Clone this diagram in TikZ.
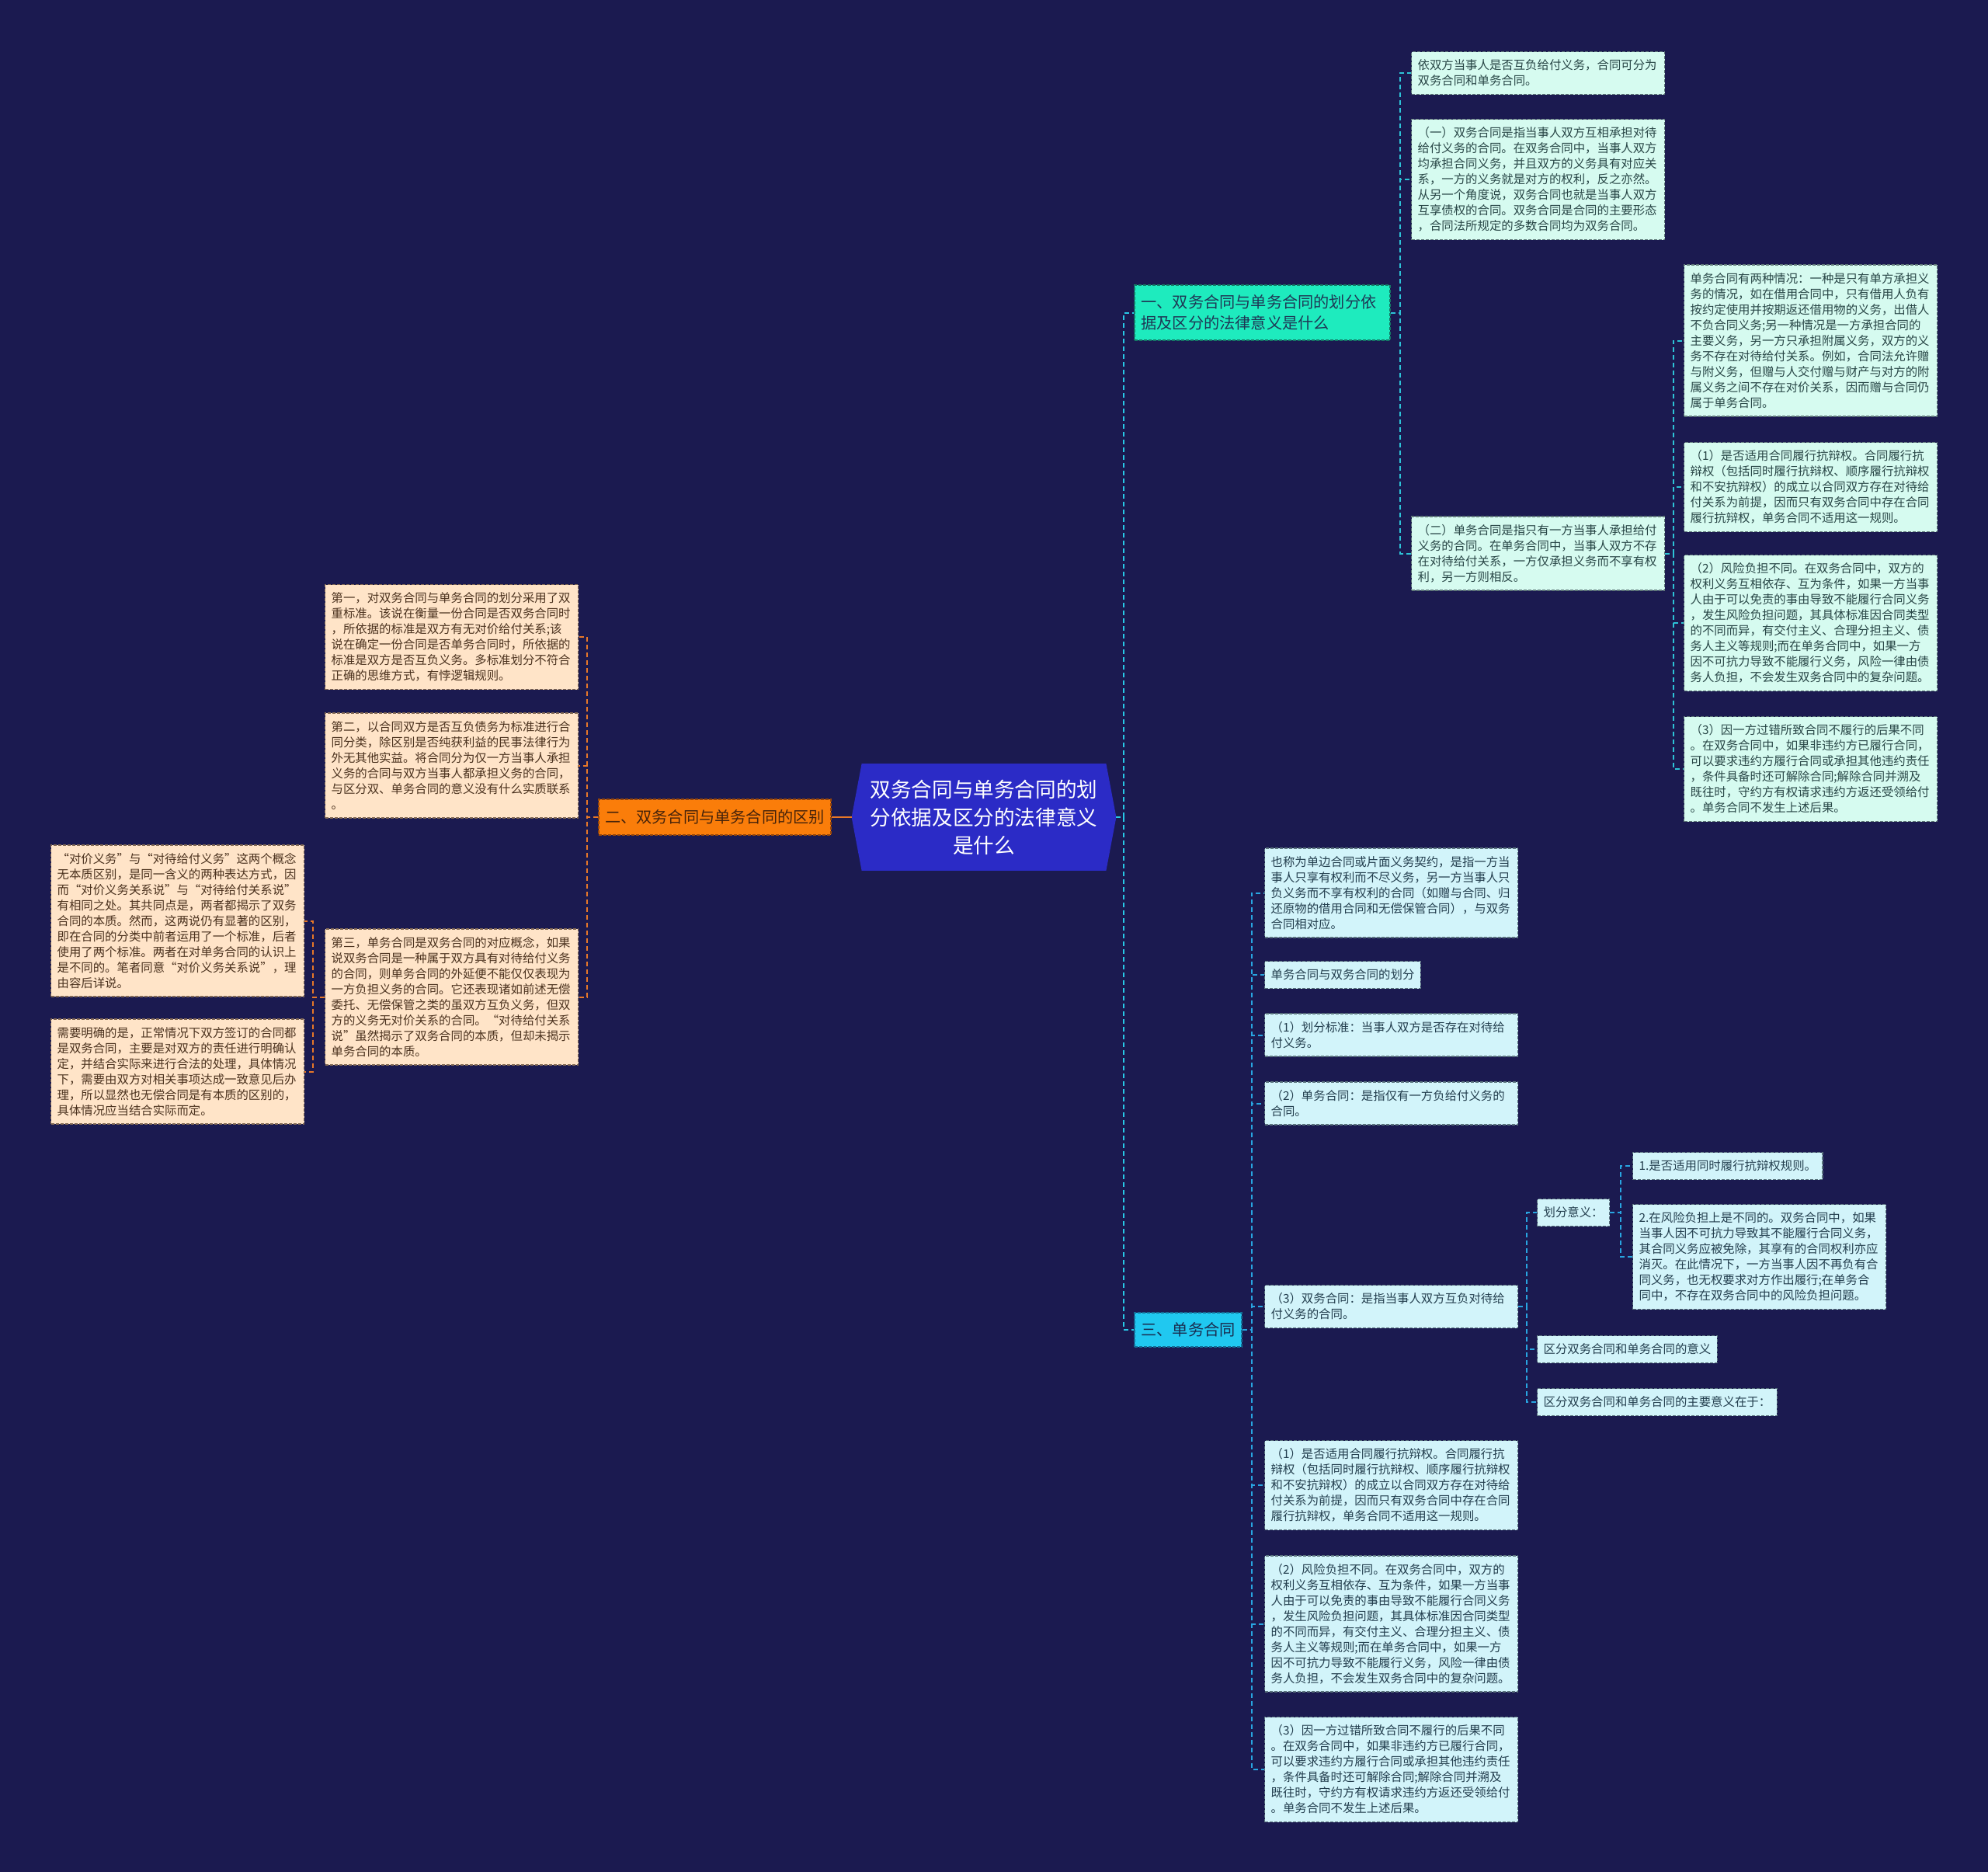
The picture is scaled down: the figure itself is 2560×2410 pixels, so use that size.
\documentclass[tikz,border=0pt]{standalone}
\usepackage{fontspec}
\setmainfont{Noto Sans CJK SC}
\usetikzlibrary{calc,backgrounds}
\definecolor{bgc}{RGB}{27,26,80}
\definecolor{rootfill}{RGB}{43,43,198}
\definecolor{orfill}{RGB}{250,125,10}
\definecolor{orline}{RGB}{150,70,10}
\definecolor{ortext}{RGB}{70,35,10}
\definecolor{onefill}{RGB}{30,235,190}
\definecolor{oneline}{RGB}{20,120,100}
\definecolor{onetext}{RGB}{30,55,85}
\definecolor{thrfill}{RGB}{32,200,240}
\definecolor{thrline}{RGB}{20,110,150}
\definecolor{thrtext}{RGB}{25,45,80}
\definecolor{mintf}{RGB}{214,251,240}
\definecolor{mintl}{RGB}{95,120,120}
\definecolor{mintt}{RGB}{40,70,70}
\definecolor{bluef}{RGB}{210,244,250}
\definecolor{bluel}{RGB}{90,115,125}
\definecolor{bluet}{RGB}{35,62,78}
\definecolor{peachf}{RGB}{255,228,200}
\definecolor{peachl}{RGB}{130,105,85}
\definecolor{peacht}{RGB}{75,50,30}
\definecolor{eroot}{RGB}{40,200,230}
\definecolor{eone}{RGB}{45,195,215}
\definecolor{ethr}{RGB}{40,165,225}
\definecolor{etwo}{RGB}{232,120,40}
\tikzset{
  box/.style={rectangle, anchor=west, inner xsep=4pt, inner ysep=0pt,
    line width=0.6pt, dash pattern=on 2pt off 1pt,
    font=\fontsize{7.7}{10}\selectfont, align=left},
  wide/.style={text width=155pt},
  nl/.style={minimum height={(20*#1+15)*0.5pt}},
  mint/.style={box, fill=mintf, draw=mintl, text=mintt},
  bluebox/.style={box, fill=bluef, draw=bluel, text=bluet},
  peach/.style={box, fill=peachf, draw=peachl, text=peacht},
  branch/.style={rectangle, inner xsep=4pt, inner ysep=0pt, line width=0.7pt,
    dash pattern=on 2pt off 1pt, font=\fontsize{10.1}{13.5}\selectfont},
  rootnode/.style={rectangle, inner sep=0pt, minimum width=170pt, minimum height=68.5pt,
    text=white, align=center, font=\fontsize{13.3}{18}\selectfont},
  edge/.style={line width=1pt, dash pattern=on 3pt off 2pt},
  eR/.style={edge, draw=eroot},
  e1/.style={edge, draw=eone},
  e3/.style={edge, draw=ethr},
  e2/.style={edge, draw=etwo},
}
\begin{document}
\begin{tikzpicture}[x=0.5pt,y=-0.5pt]
\useasboundingbox (0,0) rectangle (2560,2410);
\begin{scope}[on background layer]
\fill[bgc] (0,0) rectangle (2560,2410);
\end{scope}

% root
\node[rootnode] (root) at (1267,1052) {双务合同与单务合同的划\\分依据及区分的法律意义\\是什么};
\begin{scope}[on background layer]
\fill[rootfill] ($(root.north west)+(13,0)$) -- ($(root.north east)+(-13,0)$) -- (root.east)
  -- ($(root.south east)+(-13,0)$) -- ($(root.south west)+(13,0)$) -- (root.west) -- cycle;
\end{scope}

% branches
\node[branch, fill=orfill, draw=orline, text=ortext, minimum width=149.5pt, minimum height=23pt] (b2) at (920.5,1052) {二、双务合同与单务合同的区别};
\node[branch, fill=onefill, draw=oneline, text=onetext, minimum width=164.5pt, minimum height=35.5pt, text width=156pt, align=left] (b1) at (1625.5,402.5) {一、双务合同与单务合同的划分依\\据及区分的法律意义是什么};
\node[branch, fill=thrfill, draw=thrline, text=thrtext, minimum width=69pt, minimum height=22pt] (b3) at (1530,1712) {三、单务合同};

% branch one subtree
\node[mint, wide, nl=2] (A) at (1817,94) {依双方当事人是否互负给付义务，合同可分为\\双务合同和单务合同。};
\node[mint, wide, nl=7] (B) at (1817,231) {（一）双务合同是指当事人双方互相承担对待\\给付义务的合同。在双务合同中，当事人双方\\均承担合同义务，并且双方的义务具有对应关\\系，一方的义务就是对方的权利，反之亦然。\\从另一个角度说，双务合同也就是当事人双方\\互享债权的合同。双务合同是合同的主要形态\\，合同法所规定的多数合同均为双务合同。};
\node[mint, wide, nl=4] (C) at (1817,712.5) {（二）单务合同是指只有一方当事人承担给付\\义务的合同。在单务合同中，当事人双方不存\\在对待给付关系，一方仅承担义务而不享有权\\利，另一方则相反。};
\node[mint, wide, nl=9] (D) at (2168,438.5) {单务合同有两种情况：一种是只有单方承担义\\务的情况，如在借用合同中，只有借用人负有\\按约定使用并按期返还借用物的义务，出借人\\不负合同义务;另一种情况是一方承担合同的\\主要义务，另一方只承担附属义务，双方的义\\务不存在对待给付关系。例如，合同法允许赠\\与附义务，但赠与人交付赠与财产与对方的附\\属义务之间不存在对价关系，因而赠与合同仍\\属于单务合同。};
\node[mint, wide, nl=5] (E) at (2168,627) {（1）是否适用合同履行抗辩权。合同履行抗\\辩权（包括同时履行抗辩权、顺序履行抗辩权\\和不安抗辩权）的成立以合同双方存在对待给\\付关系为前提，因而只有双务合同中存在合同\\履行抗辩权，单务合同不适用这一规则。};
\node[mint, wide, nl=8] (F) at (2168,802) {（2）风险负担不同。在双务合同中，双方的\\权利义务互相依存、互为条件，如果一方当事\\人由于可以免责的事由导致不能履行合同义务\\，发生风险负担问题，其具体标准因合同类型\\的不同而异，有交付主义、合理分担主义、债\\务人主义等规则;而在单务合同中，如果一方\\因不可抗力导致不能履行义务，风险一律由债\\务人负担，不会发生双务合同中的复杂问题。};
\node[mint, wide, nl=6] (G) at (2168,990) {（3）因一方过错所致合同不履行的后果不同\\。在双务合同中，如果非违约方已履行合同，\\可以要求违约方履行合同或承担其他违约责任\\，条件具备时还可解除合同;解除合同并溯及\\既往时，守约方有权请求违约方返还受领给付\\。单务合同不发生上述后果。};

% branch two subtree
\node[peach, wide, nl=6] (H) at (418,820) {第一，对双务合同与单务合同的划分采用了双\\重标准。该说在衡量一份合同是否双务合同时\\，所依据的标准是双方有无对价给付关系;该\\说在确定一份合同是否单务合同时，所依据的\\标准是双方是否互负义务。多标准划分不符合\\正确的思维方式，有悖逻辑规则。};
\node[peach, wide, nl=6] (I) at (418,985.5) {第二，以合同双方是否互负债务为标准进行合\\同分类，除区别是否纯获利益的民事法律行为\\外无其他实益。将合同分为仅一方当事人承担\\义务的合同与双方当事人都承担义务的合同，\\与区分双、单务合同的意义没有什么实质联系\\。};
\node[peach, wide, nl=8] (J) at (418,1283.5) {第三，单务合同是双务合同的对应概念，如果\\说双务合同是一种属于双方具有对待给付义务\\的合同，则单务合同的外延便不能仅仅表现为\\一方负担义务的合同。它还表现诸如前述无偿\\委托、无偿保管之类的虽双方互负义务，但双\\方的义务无对价关系的合同。“对待给付关系\\说”虽然揭示了双务合同的本质，但却未揭示\\单务合同的本质。};
\node[peach, wide, nl=9] (K) at (65,1185.5) {“对价义务”与“对待给付义务”这两个概念\\无本质区别，是同一含义的两种表达方式，因\\而“对价义务关系说”与“对待给付关系说”\\有相同之处。其共同点是，两者都揭示了双务\\合同的本质。然而，这两说仍有显著的区别，\\即在合同的分类中前者运用了一个标准，后者\\使用了两个标准。两者在对单务合同的认识上\\是不同的。笔者同意“对价义务关系说”，理\\由容后详说。};
\node[peach, wide, nl=6] (L) at (65,1379.5) {需要明确的是，正常情况下双方签订的合同都\\是双务合同，主要是对双方的责任进行明确认\\定，并结合实际来进行合法的处理，具体情况\\下，需要由双方对相关事项达成一致意见后办\\理，所以显然也无偿合同是有本质的区别的，\\具体情况应当结合实际而定。};

% branch three subtree
\node[bluebox, wide, nl=5] (M) at (1628,1149.5) {也称为单边合同或片面义务契约，是指一方当\\事人只享有权利而不尽义务，另一方当事人只\\负义务而不享有权利的合同（如赠与合同、归\\还原物的借用合同和无偿保管合同），与双务\\合同相对应。};
\node[bluebox, nl=1] (N) at (1628,1255) {单务合同与双务合同的划分};
\node[bluebox, wide, nl=2] (O) at (1628,1332.5) {（1）划分标准：当事人双方是否存在对待给\\付义务。};
\node[bluebox, wide, nl=2] (P) at (1628,1420.5) {（2）单务合同：是指仅有一方负给付义务的\\合同。};
\node[bluebox, wide, nl=2] (Q) at (1628,1682) {（3）双务合同：是指当事人双方互负对待给\\付义务的合同。};
\node[bluebox, wide, nl=5] (R) at (1628,1912) {（1）是否适用合同履行抗辩权。合同履行抗\\辩权（包括同时履行抗辩权、顺序履行抗辩权\\和不安抗辩权）的成立以合同双方存在对待给\\付关系为前提，因而只有双务合同中存在合同\\履行抗辩权，单务合同不适用这一规则。};
\node[bluebox, wide, nl=8] (S) at (1628,2090.5) {（2）风险负担不同。在双务合同中，双方的\\权利义务互相依存、互为条件，如果一方当事\\人由于可以免责的事由导致不能履行合同义务\\，发生风险负担问题，其具体标准因合同类型\\的不同而异，有交付主义、合理分担主义、债\\务人主义等规则;而在单务合同中，如果一方\\因不可抗力导致不能履行义务，风险一律由债\\务人负担，不会发生双务合同中的复杂问题。};
\node[bluebox, wide, nl=6] (T) at (1628,2278) {（3）因一方过错所致合同不履行的后果不同\\。在双务合同中，如果非违约方已履行合同，\\可以要求违约方履行合同或承担其他违约责任\\，条件具备时还可解除合同;解除合同并溯及\\既往时，守约方有权请求违约方返还受领给付\\。单务合同不发生上述后果。};
\node[bluebox, nl=1] (U) at (1979,1561) {划分意义：};
\node[bluebox, nl=1] (V) at (1979,1737) {区分双务合同和单务合同的意义};
\node[bluebox, nl=1] (W) at (1979,1805) {区分双务合同和单务合同的主要意义在于：};
\node[bluebox, nl=1] (X) at (2102,1501) {1.是否适用同时履行抗辩权规则。};
\node[bluebox, wide, nl=6] (Y) at (2102,1618) {2.在风险负担上是不同的。双务合同中，如果\\当事人因不可抗力导致其不能履行合同义务，\\其合同义务应被免除，其享有的合同权利亦应\\消灭。在此情况下，一方当事人因不再负有合\\同义务，也无权要求对方作出履行;在单务合\\同中，不存在双务合同中的风险负担问题。};

% trunk coordinates
\coordinate (tr) at (1447,0);
\coordinate (t1) at (1803,0);
\coordinate (tC) at (2155,0);
\coordinate (t2) at (756,0);
\coordinate (tJ) at (403,0);
\coordinate (t3) at (1612,0);
\coordinate (tQ) at (1966,0);
\coordinate (tU) at (2087,0);

% connectors
\draw[eR] (root.east) -- (root.east -| tr) |- (b1.west);
\draw[eR] (root.east) -- (root.east -| tr) |- (b3.west);
\draw[draw=etwo, line width=1pt] (root.west) -- (b2.east);
\foreach \n in {A,B,C} \draw[e1] (b1.east) -- (b1.east -| t1) |- (\n.west);
\foreach \n in {D,E,F,G} \draw[e1] (C.east) -- (C.east -| tC) |- (\n.west);
\foreach \n in {H,I,J} \draw[e2] (b2.west) -- (b2.west -| t2) |- (\n.east);
\foreach \n in {K,L} \draw[e2] (J.west) -- (J.west -| tJ) |- (\n.east);
\foreach \n in {M,N,O,P,Q,R,S,T} \draw[e3] (b3.east) -- (b3.east -| t3) |- (\n.west);
\foreach \n in {U,V,W} \draw[e3] (Q.east) -- (Q.east -| tQ) |- (\n.west);
\foreach \n in {X,Y} \draw[e3] (U.east) -- (U.east -| tU) |- (\n.west);
\end{tikzpicture}
\end{document}
